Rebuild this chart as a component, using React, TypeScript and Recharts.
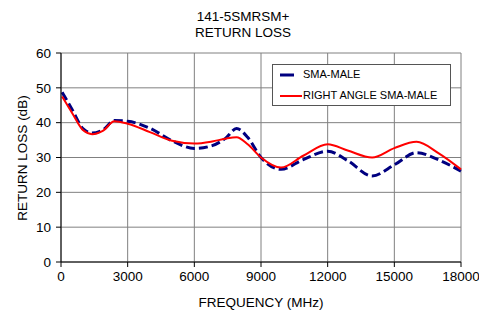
import { LineChart, Line, XAxis, YAxis, CartesianGrid } from 'recharts';

const freqs = [50, 500, 1000, 1400, 1900, 2400, 3000, 4000, 5000, 6000, 6800, 7400, 7900, 8400, 9000, 9900, 10900, 12000, 12900, 14000, 15000, 16000, 17000, 18000];
const smaMale = [48.7, 43.8, 38.2, 37.0, 38.0, 40.6, 40.4, 38.4, 34.8, 32.6, 33.4, 35.5, 38.3, 35.8, 30.0, 26.6, 29.4, 31.8, 29.1, 24.7, 27.9, 31.4, 29.3, 26.1];
const rightAngle = [47.5, 42.8, 37.8, 36.7, 37.7, 40.4, 39.7, 37.3, 34.8, 34.0, 34.6, 35.4, 35.8, 33.8, 30.0, 27.1, 30.5, 33.8, 32.0, 30.0, 32.7, 34.5, 31.2, 26.6];
const xTicks = [0, 3000, 6000, 9000, 12000, 15000, 18000];
const yTicks = [0, 10, 20, 30, 40, 50, 60];
const seriesNames = ['SMA-MALE', 'RIGHT ANGLE SMA-MALE'];

const data = freqs.map((f, i) => ({ freq: f, sma: smaMale[i], ra: rightAngle[i] }));

const font = '"Liberation Sans", Arial, sans-serif';

function LegendBox() {
  return (
    <div
      style={{
        position: 'absolute',
        left: 272,
        top: 64,
        border: '1px solid #555',
        background: '#fff',
        width: 179,
        height: 42,
        boxSizing: 'border-box',
        fontFamily: font,
        fontSize: 11,
        color: '#000',
      }}
    >
      <svg width={30} height={40} style={{ position: 'absolute', left: 5, top: 0 }}>
        <line x1={2} y1={10} x2={16} y2={10} stroke="#000080" strokeWidth={3} />
        <line x1={2} y1={31} x2={24} y2={31} stroke="#ff0000" strokeWidth={2} />
      </svg>
      <div style={{ position: 'absolute', left: 30, top: 3 }}>{seriesNames[0]}</div>
      <div style={{ position: 'absolute', left: 30, top: 24 }}>{seriesNames[1]}</div>
    </div>
  );
}

export default function App() {
  return (
    <div style={{ position: 'absolute', left: 0, top: 0, width: 479, height: 314, background: '#fff', fontFamily: font, overflow: 'hidden' }}>
      <LineChart width={479} height={314} data={data} margin={{ top: 53, right: 18, left: 21, bottom: 22 }} style={{ position: 'absolute', left: 0, top: 0 }}>
        <CartesianGrid stroke="#808080" strokeWidth={1} />
        <XAxis
          dataKey="freq"
          type="number"
          domain={[0, 18000]}
          ticks={xTicks}
          interval={0}
          height={30}
          stroke="#000"
          tickSize={5}
          tick={{ fill: '#000', fontSize: 13.5, fontFamily: font }}
          tickMargin={4}
        />
        <YAxis
          type="number"
          domain={[0, 60]}
          ticks={yTicks}
          interval={0}
          width={40}
          stroke="#000"
          tickSize={5}
          tick={{ fill: '#000', fontSize: 13.5, fontFamily: font }}
          tickMargin={5}
        />
        <Line dataKey="sma" name={seriesNames[0]} type="monotone" stroke="#000080" strokeWidth={3} strokeDasharray="9 4" dot={false} isAnimationActive={false} />
        <Line dataKey="ra" name={seriesNames[1]} type="monotone" stroke="#ff0000" strokeWidth={2} dot={false} isAnimationActive={false} />
      </LineChart>
      <div style={{ position: 'absolute', left: 0, width: 486, top: 9, textAlign: 'center', fontSize: 13.5, lineHeight: '16px', color: '#000' }}>
        141-5SMRSM+
        <br />
        RETURN LOSS
      </div>
      <div
        style={{
          position: 'absolute',
          left: 22,
          top: 158,
          transform: 'translate(-50%, -50%) rotate(-90deg)',
          whiteSpace: 'nowrap',
          fontSize: 13.5,
          color: '#000',
        }}
      >
        RETURN LOSS (dB)
      </div>
      <div style={{ position: 'absolute', left: 61, width: 400, top: 295, textAlign: 'center', fontSize: 13.5, color: '#000' }}>
        FREQUENCY (MHz)
      </div>
      <LegendBox />
    </div>
  );
}
